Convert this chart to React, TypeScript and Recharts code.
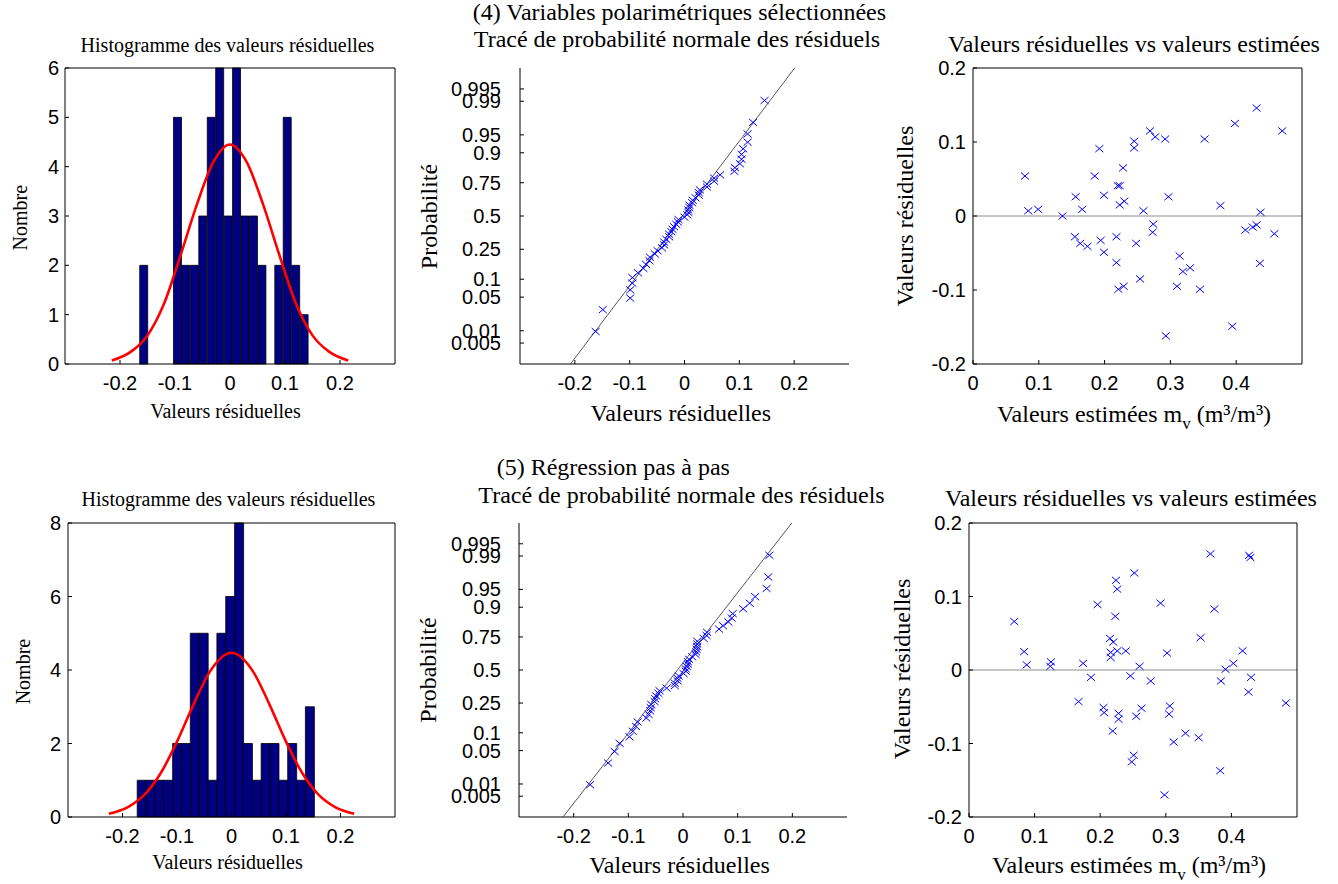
import React from 'react';
import {
  ComposedChart,
  ScatterChart,
  Bar,
  Line,
  Scatter,
  XAxis,
  YAxis,
  ReferenceLine,
} from 'recharts';

// ---------- (4) Variables polarimétriques sélectionnées ----------
const binCentersTop = [
  -0.1565, -0.1412, -0.1258, -0.1105, -0.0951, -0.0798, -0.0644, -0.0491, -0.0337, -0.0184,
  -0.003, 0.0123, 0.0277, 0.043, 0.0584, 0.0737, 0.0891, 0.1044, 0.1198, 0.1351,
];
const binCountsTop = [2, 0, 0, 0, 5, 2, 2, 3, 5, 6, 3, 6, 3, 3, 2, 0, 2, 5, 2, 1];
const fitXTop = [-0.215, -0.18, -0.15, -0.12, -0.09, -0.06, -0.03, 0, 0.03, 0.06, 0.09, 0.12, 0.15, 0.18, 0.215];
const fitYTop = [0.07, 0.25, 0.58, 1.22, 2.2, 3.24, 4.1, 4.45, 4.1, 3.24, 2.2, 1.22, 0.58, 0.25, 0.07];
const fittedTop = [
  0.079, 0.084, 0.099, 0.136, 0.156, 0.155, 0.163, 0.166, 0.174, 0.185, 0.192, 0.194, 0.199,
  0.199, 0.218, 0.218, 0.22, 0.223, 0.223, 0.228, 0.23, 0.221, 0.229, 0.245, 0.245, 0.248,
  0.254, 0.259, 0.269, 0.277, 0.274, 0.273, 0.292, 0.297, 0.293, 0.31, 0.314, 0.319, 0.33,
  0.345, 0.352, 0.376, 0.398, 0.394, 0.414, 0.425, 0.431, 0.431, 0.436, 0.437, 0.458, 0.47,
];
const residTop = [
  0.054, 0.007, 0.009, 0.0, 0.026, -0.028, -0.037, 0.009, -0.041, 0.054, 0.091, -0.033, 0.028,
  -0.049, -0.028, -0.063, 0.041, 0.041, 0.015, 0.065, 0.02, -0.099, -0.095, 0.101, 0.092, -0.037,
  -0.085, 0.007, 0.115, 0.107, -0.011, -0.022, 0.104, 0.026, -0.162, -0.095, -0.054, -0.075, -0.07,
  -0.099, 0.104, 0.014, 0.125, -0.149, -0.019, -0.015, -0.012, 0.146, -0.064, 0.005, -0.024, 0.115,
];
const refLineXTop = [-0.208, 0.201];

// ---------- (5) Régression pas à pas ----------
const binCentersBot = [
  -0.1649, -0.1487, -0.1324, -0.1162, -0.0999, -0.0837, -0.0675, -0.0512, -0.035, -0.0187,
  -0.0025, 0.0138, 0.03, 0.0463, 0.0625, 0.0787, 0.095, 0.1112, 0.1275, 0.1437,
];
const binCountsBot = [1, 1, 1, 1, 2, 2, 5, 5, 1, 5, 6, 8, 2, 1, 2, 2, 1, 2, 1, 3];
const fitXBot = [-0.225, -0.19, -0.16, -0.13, -0.1, -0.07, -0.04, 0, 0.04, 0.07, 0.1, 0.13, 0.16, 0.19, 0.225];
const fitYBot = [0.09, 0.27, 0.6, 1.19, 2.05, 3.05, 3.95, 4.47, 3.95, 3.05, 2.05, 1.19, 0.6, 0.27, 0.09];
const fittedBot = [
  0.069, 0.084, 0.088, 0.125, 0.124, 0.167, 0.174, 0.186, 0.196, 0.205, 0.206, 0.215, 0.22,
  0.216, 0.216, 0.219, 0.224, 0.226, 0.223, 0.226, 0.228, 0.228, 0.239, 0.246, 0.252, 0.251,
  0.248, 0.255, 0.26, 0.263, 0.277, 0.292, 0.302, 0.298, 0.306, 0.305, 0.312, 0.33, 0.35,
  0.353, 0.368, 0.374, 0.383, 0.384, 0.391, 0.403, 0.417, 0.426, 0.427, 0.429, 0.43, 0.483,
];
const residBot = [
  0.066, 0.025, 0.007, 0.011, 0.005, -0.043, 0.009, -0.01, 0.089, -0.051, -0.058, 0.043, 0.038,
  0.024, 0.017, -0.083, 0.122, 0.11, 0.073, 0.026, -0.059, -0.067, 0.026, -0.008, 0.132, -0.116,
  -0.125, -0.063, 0.005, -0.052, -0.015, 0.091, 0.023, -0.17, -0.049, -0.06, -0.098, -0.086,
  -0.092, 0.044, 0.158, 0.083, -0.137, -0.015, 0.001, 0.009, 0.026, -0.03, 0.156, 0.153, -0.01, -0.045,
];
const refLineXBot = [-0.2195, 0.199];
const refLineZ = [-3, 3];

// normal quantiles of the plotting positions (i - 0.5) / 52
const plotZ52 = [
  -2.3414, -1.898, -1.6638, -1.4962, -1.3624, -1.2495, -1.1503, -1.0615, -0.9803, -0.9052,
  -0.8348, -0.7683, -0.7051, -0.6445, -0.5863, -0.5299, -0.4752, -0.4219, -0.3698, -0.3186,
  -0.2683, -0.2187, -0.1695, -0.1208, -0.0724, -0.0241, 0.0241, 0.0724, 0.1208, 0.1695,
  0.2187, 0.2683, 0.3186, 0.3698, 0.4219, 0.4752, 0.5299, 0.5863, 0.6445, 0.7051,
  0.7683, 0.8348, 0.9052, 0.9803, 1.0615, 1.1503, 1.2495, 1.3624, 1.4962, 1.6638, 1.898, 2.3414,
];

const probLabels = ['0.005', '0.01', '0.05', '0.1', '0.25', '0.5', '0.75', '0.9', '0.95', '0.99', '0.995'];
const probTickZ = [-2.5758, -2.3263, -1.6449, -1.2816, -0.6745, 0, 0.6745, 1.2816, 1.6449, 2.3263, 2.5758];
const residTicks = [-0.2, -0.1, 0, 0.1, 0.2];
const fittedTicks = [0, 0.1, 0.2, 0.3, 0.4];
const countTicksTop = [0, 1, 2, 3, 4, 5, 6];
const countTicksBot = [0, 2, 4, 6, 8];

const SANS = '"Liberation Sans", Arial, sans-serif';
const SERIF = '"Liberation Serif", "Times New Roman", serif';
const TICK = { fill: '#000', fontSize: 20, fontFamily: SANS };
const PAD_L = 90;
const PAD_T = 10;
const PAD_R = 10;
const PAD_B = 50;

type Box = { x: number; y: number; w: number; h: number };

function Cross(props: any) {
  const { cx, cy } = props;
  if (cx == null || cy == null) return <g />;
  const sx = 4;
  const sy = 3.5;
  return (
    <path
      d={`M${cx - sx},${cy - sy}L${cx + sx},${cy + sy}M${cx - sx},${cy + sy}L${cx + sx},${cy - sy}`}
      stroke="#0000ff"
      strokeWidth={1}
      fill="none"
    />
  );
}

const NoDot = () => <g />;

function Frame({ box, children }: { box: Box; children: React.ReactNode }) {
  return (
    <div style={{ position: 'absolute', left: box.x - PAD_L, top: box.y - PAD_T }}>{children}</div>
  );
}

// the top / right axes only draw the box and inward ticks (1px thick so recharts renders them)
function HistPanel({ box, centers, counts, curveX, curveY, yTicks, yGap }: any) {
  const bins = centers.map((x: number, i: number) => ({ x, n: counts[i] }));
  const curve = curveX.map((x: number, i: number) => ({ x, y: curveY[i] }));
  const yMax = yTicks[yTicks.length - 1];
  return (
    <Frame box={box}>
      <ComposedChart
        width={box.w + PAD_L + PAD_R}
        height={box.h + PAD_T + PAD_B}
        data={bins}
        margin={{ top: PAD_T - 1, right: PAD_R - 1, bottom: 0, left: 0 }}
        barCategoryGap={0}
        barGap={0}
      >
        <XAxis xAxisId="bins" dataKey="x" type="number" domain={[-0.3, 0.3]} ticks={residTicks}
          interval={0} height={PAD_B} stroke="#000" tickSize={-4} tickMargin={16} tick={TICK} />
        <XAxis xAxisId="fit" dataKey="x" type="number" domain={[-0.3, 0.3]} hide />
        <XAxis xAxisId="top" orientation="top" type="number" domain={[-0.3, 0.3]} ticks={residTicks}
          interval={0} height={1} stroke="#000" tickSize={-4} tick={false} />
        <YAxis yAxisId="l" type="number" domain={[0, yMax]} ticks={yTicks} interval={0}
          width={PAD_L} stroke="#000" tickSize={-4} tickMargin={yGap} tick={TICK} />
        <YAxis yAxisId="r" orientation="right" type="number" domain={[0, yMax]} ticks={yTicks}
          interval={0} width={1} stroke="#000" tickSize={-4} tick={false} />
        <Bar xAxisId="bins" yAxisId="l" dataKey="n" fill="#000080" stroke="#000"
          strokeWidth={0.8} isAnimationActive={false} />
        <Line xAxisId="fit" yAxisId="l" data={curve} dataKey="y" type="monotone" stroke="#ff0000"
          strokeWidth={2.6} dot={false} isAnimationActive={false} />
      </ComposedChart>
    </Frame>
  );
}

function ProbPanel({ box, resid, lineX, yGap }: any) {
  const sorted = [...resid].sort((a: number, b: number) => a - b);
  const pts = sorted.map((x: number, i: number) => ({ x, z: plotZ52[i] }));
  const ref = lineX.map((x: number, i: number) => ({ x, z: refLineZ[i] }));
  return (
    <Frame box={box}>
      <ScatterChart
        width={box.w + PAD_L + PAD_R}
        height={box.h + PAD_T + PAD_B}
        margin={{ top: PAD_T, right: PAD_R, bottom: 0, left: 0 }}
      >
        <XAxis dataKey="x" type="number" domain={[-0.3, 0.3]} ticks={residTicks} interval={0}
          height={PAD_B} stroke="#000" tickSize={-4} tickMargin={16} tick={TICK} />
        <YAxis dataKey="z" type="number" domain={[-3, 3]} ticks={probTickZ} interval={0}
          tickFormatter={(v: number) => probLabels[probTickZ.indexOf(v)]}
          width={PAD_L} stroke="#000" tickSize={-4} tickMargin={yGap} tick={TICK} />
        <Scatter data={ref} line={{ stroke: '#444', strokeWidth: 0.9 }} shape={NoDot}
          isAnimationActive={false} />
        <Scatter data={pts} shape={Cross} isAnimationActive={false} />
      </ScatterChart>
    </Frame>
  );
}

function ResidPanel({ box, fitted, resid, yGap }: any) {
  const pts = fitted.map((x: number, i: number) => ({ x, y: resid[i] }));
  return (
    <Frame box={box}>
      <ScatterChart
        width={box.w + PAD_L + PAD_R}
        height={box.h + PAD_T + PAD_B}
        margin={{ top: PAD_T - 1, right: PAD_R - 1, bottom: 0, left: 0 }}
      >
        <XAxis xAxisId="b" dataKey="x" type="number" domain={[0, 0.5]} ticks={fittedTicks} interval={0}
          height={PAD_B} stroke="#000" tickSize={-4} tickMargin={16} tick={TICK} />
        <XAxis xAxisId="t" orientation="top" dataKey="x" type="number" domain={[0, 0.5]}
          ticks={fittedTicks} interval={0} height={1} stroke="#000" tickSize={-4} tick={false} />
        <YAxis yAxisId="l" dataKey="y" type="number" domain={[-0.2, 0.2]} ticks={residTicks}
          interval={0} width={PAD_L} stroke="#000" tickSize={-4} tickMargin={yGap} tick={TICK} />
        <YAxis yAxisId="r" orientation="right" dataKey="y" type="number" domain={[-0.2, 0.2]}
          ticks={residTicks} interval={0} width={1} stroke="#000" tickSize={-4} tick={false} />
        <ReferenceLine xAxisId="b" yAxisId="l" y={0} stroke="#8c8c8c" strokeWidth={1} />
        <Scatter xAxisId="b" yAxisId="l" data={pts} shape={Cross} isAnimationActive={false} />
      </ScatterChart>
    </Frame>
  );
}

function Rot({ x, y, size, children }: any) {
  return (
    <text transform={`translate(${x},${y}) rotate(-90)`} textAnchor="middle" fontSize={size}
      fontFamily={SERIF} fill="#000">
      {children}
    </text>
  );
}

function T({ x, y, size, anchor = 'middle', children }: any) {
  return (
    <text x={x} y={y} textAnchor={anchor} fontSize={size} fontFamily={SERIF} fill="#000">
      {children}
    </text>
  );
}

function MvLabel({ x, y }: { x: number; y: number }) {
  return (
    <text x={x} y={y} textAnchor="middle" fontSize={24} fontFamily={SERIF} fill="#000">
      Valeurs estimées m
      <tspan dy={7} fontSize={17}>v</tspan>
      <tspan dy={-7}> (m³/m³)</tspan>
    </text>
  );
}

export default function App() {
  return (
    <div style={{ position: 'absolute', left: 0, top: 0, width: 1338, height: 884, background: '#fff', overflow: 'hidden' }}>
      <HistPanel box={{ x: 65, y: 68, w: 330, h: 296 }} centers={binCentersTop} counts={binCountsTop}
        curveX={fitXTop} curveY={fitYTop} yTicks={countTicksTop} yGap={10} />
      <ProbPanel box={{ x: 520, y: 68, w: 329, h: 296 }} resid={residTop} lineX={refLineXTop} yGap={23} />
      <ResidPanel box={{ x: 973, y: 68, w: 329, h: 296 }} fitted={fittedTop} resid={residTop} yGap={11} />

      <HistPanel box={{ x: 68, y: 523, w: 327, h: 294 }} centers={binCentersBot} counts={binCountsBot}
        curveX={fitXBot} curveY={fitYBot} yTicks={countTicksBot} yGap={11} />
      <ProbPanel box={{ x: 519, y: 523, w: 328, h: 294 }} resid={residBot} lineX={refLineXBot} yGap={22} />
      <ResidPanel box={{ x: 969, y: 523, w: 328, h: 294 }} fitted={fittedBot} resid={residBot} yGap={11} />

      <svg width={1338} height={884} style={{ position: 'absolute', left: 0, top: 0, pointerEvents: 'none' }}>
        {/* top row */}
        <T x={472.7} y={20} size={24} anchor="start">(4) Variables polarimétriques sélectionnées</T>
        <T x={677} y={46.7} size={24}>Tracé de probabilité normale des résiduels</T>
        <T x={227.5} y={52} size={20}>Histogramme des valeurs résiduelles</T>
        <T x={1134} y={52} size={24}>Valeurs résiduelles vs valeurs estimées</T>
        <Rot x={26.7} y={217.7} size={20}>Nombre</Rot>
        <Rot x={437} y={216.5} size={24}>Probabilité</Rot>
        <Rot x={912.7} y={216} size={24}>Valeurs résiduelles</Rot>
        <T x={225.5} y={418.3} size={20}>Valeurs résiduelles</T>
        <T x={680.8} y={420.7} size={24}>Valeurs résiduelles</T>
        <MvLabel x={1134} y={421.7} />

        {/* bottom row */}
        <T x={496.7} y={475} size={24} anchor="start">(5) Régression pas à pas</T>
        <T x={681.5} y={502.7} size={24}>Tracé de probabilité normale des résiduels</T>
        <T x={228.5} y={506} size={20}>Histogramme des valeurs résiduelles</T>
        <T x={1131} y={506} size={24}>Valeurs résiduelles vs valeurs estimées</T>
        <Rot x={30} y={671.6} size={20}>Nombre</Rot>
        <Rot x={436} y={670} size={24}>Probabilité</Rot>
        <Rot x={910} y={669} size={24}>Valeurs résiduelles</Rot>
        <T x={227.5} y={869.3} size={20}>Valeurs résiduelles</T>
        <T x={679.5} y={873.3} size={24}>Valeurs résiduelles</T>
        <MvLabel x={1129} y={873.3} />
      </svg>
    </div>
  );
}
